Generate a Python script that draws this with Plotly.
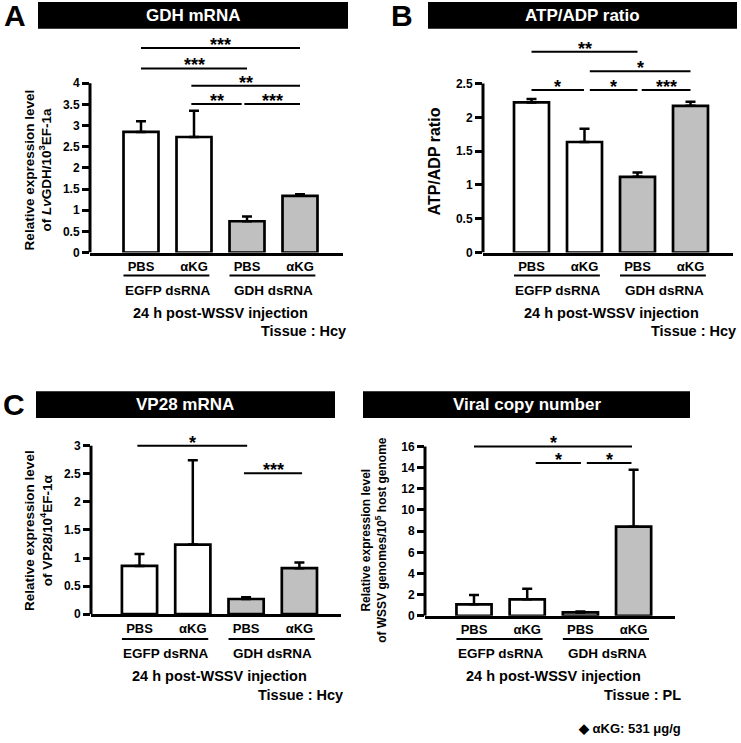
import plotly.graph_objects as go

W, H = 741, 743
FONT = "Liberation Sans, Arial, sans-serif"

# ---------------- data ----------------
categories = ["PBS", "αKG", "PBS", "αKG"]
groups = ["EGFP dsRNA", "GDH dsRNA"]
bar_fills = ["white", "white", "#c0c0c0", "#c0c0c0"]

gdh_mean = [2.85, 2.73, 0.74, 1.34]
gdh_err = [0.25, 0.62, 0.11, 0.04]
gdh_ticks = [0, 0.5, 1, 1.5, 2, 2.5, 3, 3.5, 4]
gdh_sig_x0 = [1, 1, 1.95, 1.95, 2.95]
gdh_sig_x1 = [4, 3, 4, 2.9, 4]
gdh_sig_y = [4.83, 4.35, 3.94, 3.51, 3.51]
gdh_sig_lab = ["***", "***", "**", "**", "***"]

atp_mean = [2.22, 1.635, 1.12, 2.17]
atp_err = [0.05, 0.195, 0.065, 0.06]
atp_ticks = [0, 0.5, 1, 1.5, 2, 2.5]
atp_sig_x0 = [1, 2.1, 1, 2.1, 3.08]
atp_sig_x1 = [3, 4, 1.99, 3, 4]
atp_sig_y = [2.97, 2.68, 2.405, 2.405, 2.405]
atp_sig_lab = ["**", "*", "*", "*", "***"]

vp28_mean = [0.86, 1.24, 0.27, 0.82]
vp28_err = [0.21, 1.50, 0.03, 0.10]
vp28_ticks = [0, 0.5, 1, 1.5, 2, 2.5, 3]
vp28_sig_x0 = [0.96, 2.96]
vp28_sig_x1 = [3.02, 4.05]
vp28_sig_y = [3.0, 2.51]
vp28_sig_lab = ["*", "***"]

copy_mean = [1.09, 1.56, 0.32, 8.42]
copy_err = [0.88, 1.00, 0.09, 5.37]
copy_ticks = [0, 2, 4, 6, 8, 10, 12, 14, 16]
copy_sig_x0 = [1, 2.16, 3.12]
copy_sig_x1 = [3.97, 3.01, 3.96]
copy_sig_y = [16.0, 14.44, 14.44]
copy_sig_lab = ["*", "*", "*"]


def px(x):
    return x / W


def py(y):
    return 1 - y / H


panels = [
    dict(mean=gdh_mean, err=gdh_err, ticks=gdh_ticks, sx0=gdh_sig_x0, sx1=gdh_sig_x1,
         sy=gdh_sig_y, slab=gdh_sig_lab,
         ax0=90, ax1=343, zero=255, ttop=84, c1=141, sp=53, dtop=35,
         title="GDH mRNA", bar=(38, 348, 2, 29), letter="A", lx=15, ly=16,
         ytitle="Relative expression level<br>of <i>Lv</i>GDH/10<sup>3</sup>EF-1a",
         ytx=38, yty=172, ytsize=13.5,
         glines=(278, 293, 316, 334), tissue="Tissue : Hcy", tx=348),
    dict(mean=atp_mean, err=atp_err, ticks=atp_ticks, sx0=atp_sig_x0, sx1=atp_sig_x1,
         sy=atp_sig_y, slab=atp_sig_lab,
         ax0=483, ax1=733, zero=255, ttop=84.3, c1=531.5, sp=53, dtop=35,
         title="ATP/ADP ratio", bar=(428, 737, 2, 29), letter="B", lx=402, ly=16,
         ytitle="ATP/ADP ratio", ytx=434, yty=163, ytsize=16,
         glines=(278, 293, 316, 334), tissue="Tissue : Hcy", tx=738),
    dict(mean=vp28_mean, err=vp28_err, ticks=vp28_ticks, sx0=vp28_sig_x0, sx1=vp28_sig_x1,
         sy=vp28_sig_y, slab=vp28_sig_lab,
         ax0=91, ax1=341, zero=620, ttop=450, c1=139.5, sp=53.3, dtop=428,
         title="VP28 mRNA", bar=(36, 335, 395, 422), letter="C", lx=14, ly=408,
         ytitle="Relative expression level<br>of VP28/10<sup>4</sup>EF-1α",
         ytx=39, yty=536, ytsize=13.5,
         glines=(645, 660, 682, 702), tissue="Tissue : Hcy", tx=345),
    dict(mean=copy_mean, err=copy_err, ticks=copy_ticks, sx0=copy_sig_x0, sx1=copy_sig_x1,
         sy=copy_sig_y, slab=copy_sig_lab,
         ax0=425, ax1=675, zero=621.7, ttop=450.7, c1=474, sp=53.2, dtop=428,
         title="Viral copy number", bar=(363, 690, 395, 422), letter=None, lx=0, ly=0,
         ytitle="Relative expression level<br>of WSSV genomes/10<sup>5</sup> host genome",
         ytx=374, yty=545, ytsize=12,
         glines=(645, 660, 682, 702), tissue="Tissue : PL", tx=683),
]

fig = go.Figure()
shapes = []
annotations = []
layout_axes = {}


def ann(**kw):
    kw.setdefault("showarrow", False)
    kw.setdefault("xanchor", "center")
    kw.setdefault("yanchor", "middle")
    annotations.append(kw)


for k, p in enumerate(panels, start=1):
    xa = "x" if k == 1 else f"x{k}"
    ya = "y" if k == 1 else f"y{k}"
    xkey = "xaxis" if k == 1 else f"xaxis{k}"
    ykey = "yaxis" if k == 1 else f"yaxis{k}"
    vtop = p["ticks"][-1]
    ppu = (p["zero"] - p["ttop"]) / vtop
    ymax = (p["zero"] - p["dtop"]) / ppu
    xl = 1 - (p["c1"] - p["ax0"]) / p["sp"]
    xr = 1 + (p["ax1"] - p["c1"]) / p["sp"]
    xpos = [1, 2, 3, 4]

    fig.add_trace(go.Bar(
        x=xpos, y=p["mean"], width=0.66, xaxis=xa, yaxis=ya,
        marker=dict(color=bar_fills, line=dict(color="black", width=2.7)),
        error_y=dict(type="data", symmetric=False, array=p["err"],
                     arrayminus=[0] * 4, color="black", thickness=2.5, width=5),
        showlegend=False, hoverinfo="skip"))

    layout_axes[xkey] = dict(
        domain=[px(p["ax0"]), px(p["ax1"])], range=[xl, xr], anchor=ya,
        showline=True, linewidth=3, linecolor="black", ticks="",
        showgrid=False, zeroline=False, tickvals=xpos, ticktext=categories,
        tickfont=dict(family=FONT, size=13, color="black", weight="bold"))
    layout_axes[ykey] = dict(
        domain=[py(p["zero"]), py(p["dtop"])], range=[0, ymax], anchor=xa,
        showline=False, showgrid=False, zeroline=False,
        ticks="outside", ticklen=7, tickwidth=2.5, tickcolor="black",
        tickvals=p["ticks"], ticktext=[f"{t:g}" for t in p["ticks"]],
        tickfont=dict(family=FONT, size=12, color="black", weight="bold"))

    # y axis line only up to the top tick
    shapes.append(dict(type="line", xref="paper", yref=ya,
                       x0=px(p["ax0"]), x1=px(p["ax0"]), y0=0, y1=vtop,
                       line=dict(color="black", width=3)))

    # significance brackets
    for x0, x1, yv, lab in zip(p["sx0"], p["sx1"], p["sy"], p["slab"]):
        shapes.append(dict(type="line", xref=xa, yref=ya, x0=x0, x1=x1, y0=yv, y1=yv,
                           line=dict(color="black", width=2)))
        ann(x=(x0 + x1) / 2, y=yv, xref=xa, yref=ya, text=lab, yshift=3,
            font=dict(family=FONT, size=18, color="black", weight="bold"))

    # group underlines and labels
    gl, gt, pt, tt = p["glines"]
    for gi, (a, b) in enumerate([(1, 2), (3, 4)]):
        shapes.append(dict(type="line", xref=xa, yref="paper",
                           x0=a - 0.33, x1=b + 0.29, y0=py(gl), y1=py(gl),
                           line=dict(color="black", width=2)))
        ann(x=(a + b) / 2, y=py(gt), xref=xa, yref="paper", text=groups[gi],
            font=dict(family=FONT, size=13.5, color="black", weight="bold"))
    ann(x=2.5, y=py(pt), xref=xa, yref="paper", text="24 h post-WSSV injection",
        font=dict(family=FONT, size=14.5, color="black", weight="bold"))
    ann(x=px(p["tx"]), y=py(tt), xref="paper", yref="paper", xanchor="right",
        text=p["tissue"], font=dict(family=FONT, size=14.5, color="black", weight="bold"))

    # title bar
    bx0, bx1, by0, by1 = p["bar"]
    shapes.append(dict(type="rect", xref="paper", yref="paper",
                       x0=px(bx0), x1=px(bx1), y0=py(by1), y1=py(by0),
                       fillcolor="black", line=dict(width=0)))
    ann(x=px((bx0 + bx1) / 2), y=py((by0 + by1) / 2), xref="paper", yref="paper",
        text=p["title"], font=dict(family=FONT, size=17, color="white", weight="bold"))
    if p["letter"]:
        ann(x=px(p["lx"]), y=py(p["ly"]), xref="paper", yref="paper", text=p["letter"],
            font=dict(family=FONT, size=30, color="black", weight="bold"))

    # y axis title
    ann(x=px(p["ytx"]), y=py(p["yty"]), xref="paper", yref="paper", text=p["ytitle"],
        textangle=-90,
        font=dict(family=FONT, size=p["ytsize"], color="black", weight="bold"))

ann(x=px(683), y=py(735), xref="paper", yref="paper", xanchor="right",
    text="◆ αKG: 531 μg/g", font=dict(family=FONT, size=13, color="black", weight="bold"))

fig.update_layout(
    width=W, height=H, margin=dict(l=0, r=0, t=0, b=0),
    paper_bgcolor="white", plot_bgcolor="white",
    shapes=shapes, annotations=annotations, showlegend=False,
    **layout_axes)

fig.write_html("out.html", config={"displayModeBar": False},
               post_script="document.body.style.margin='0px';")
